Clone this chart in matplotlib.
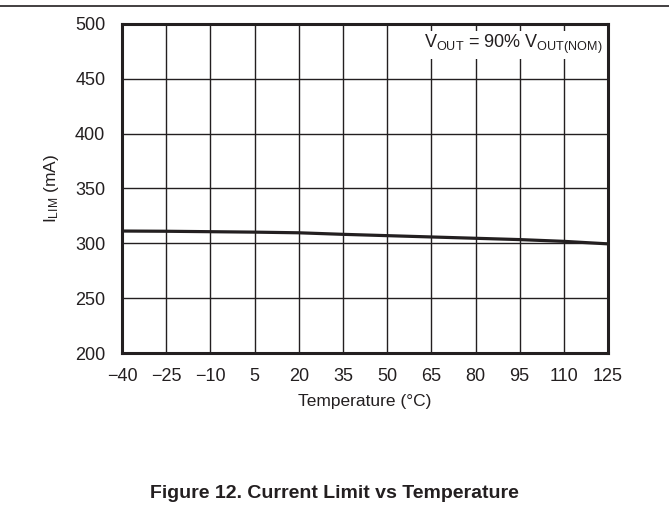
import matplotlib.pyplot as plt
from matplotlib.lines import Line2D

plt.rcParams["font.family"] = ["Liberation Sans", "DejaVu Sans"]
plt.rcParams["mathtext.fontset"] = "custom"
plt.rcParams["mathtext.rm"] = "Liberation Sans"
plt.rcParams["mathtext.it"] = "Liberation Sans"

# Data
temperature = [-40, -25, -10, 5, 20, 35, 50, 65, 80, 95, 110, 125]
i_lim = [311.2, 311.0, 310.6, 310.2, 309.6, 308.2, 307.0, 305.8, 304.6, 303.4, 301.8, 299.5]
x_ticks = [-40, -25, -10, 5, 20, 35, 50, 65, 80, 95, 110, 125]
x_labels = ["\u221240", "\u221225", "\u221210", "5", "20", "35", "50", "65", "80", "95", "110", "125"]
y_ticks = [200, 250, 300, 350, 400, 450, 500]

fig = plt.figure(figsize=(6.69, 5.29), dpi=100)
ax = fig.add_axes([0.1824, 0.3327, 0.7265, 0.622])

ax.plot(temperature, i_lim, color="#231f20", linewidth=2.3, zorder=3)

ax.set_xlim(-40, 125)
ax.set_ylim(200, 500)
ax.set_xticks(x_ticks)
ax.set_xticklabels(x_labels)
ax.set_yticks(y_ticks)
ax.tick_params(length=0, labelsize=13, colors="#231f20")
ax.tick_params(axis="y", pad=12)
ax.tick_params(axis="x", pad=11)
ax.grid(True, color="#231f20", linewidth=1.0)
for s in ax.spines.values():
    s.set_linewidth(2.2)
    s.set_color("#231f20")

ax.set_xlabel("Temperature (\u00b0C)", fontsize=12.5, color="#231f20", labelpad=6)
ax.set_ylabel("I$_{\\mathrm{LIM}}$ (mA)", fontsize=12.5, color="#231f20", labelpad=10)

ax.text(0.988, 0.972, "V$_{\\mathrm{OUT}}$ = 90% V$_{\\mathrm{OUT(NOM)}}$",
        transform=ax.transAxes, ha="right", va="top", fontsize=13, color="#231f20",
        bbox=dict(facecolor="white", edgecolor="none", pad=1.5), zorder=4)

fig.add_artist(Line2D([0, 1], [0.988, 0.988], color="#231f20", linewidth=1.2))
fig.text(0.5, 0.068, "Figure 12. Current Limit vs Temperature",
         ha="center", va="center", fontsize=14, fontweight="bold", color="#231f20")

fig.savefig("out.png", dpi=100)
